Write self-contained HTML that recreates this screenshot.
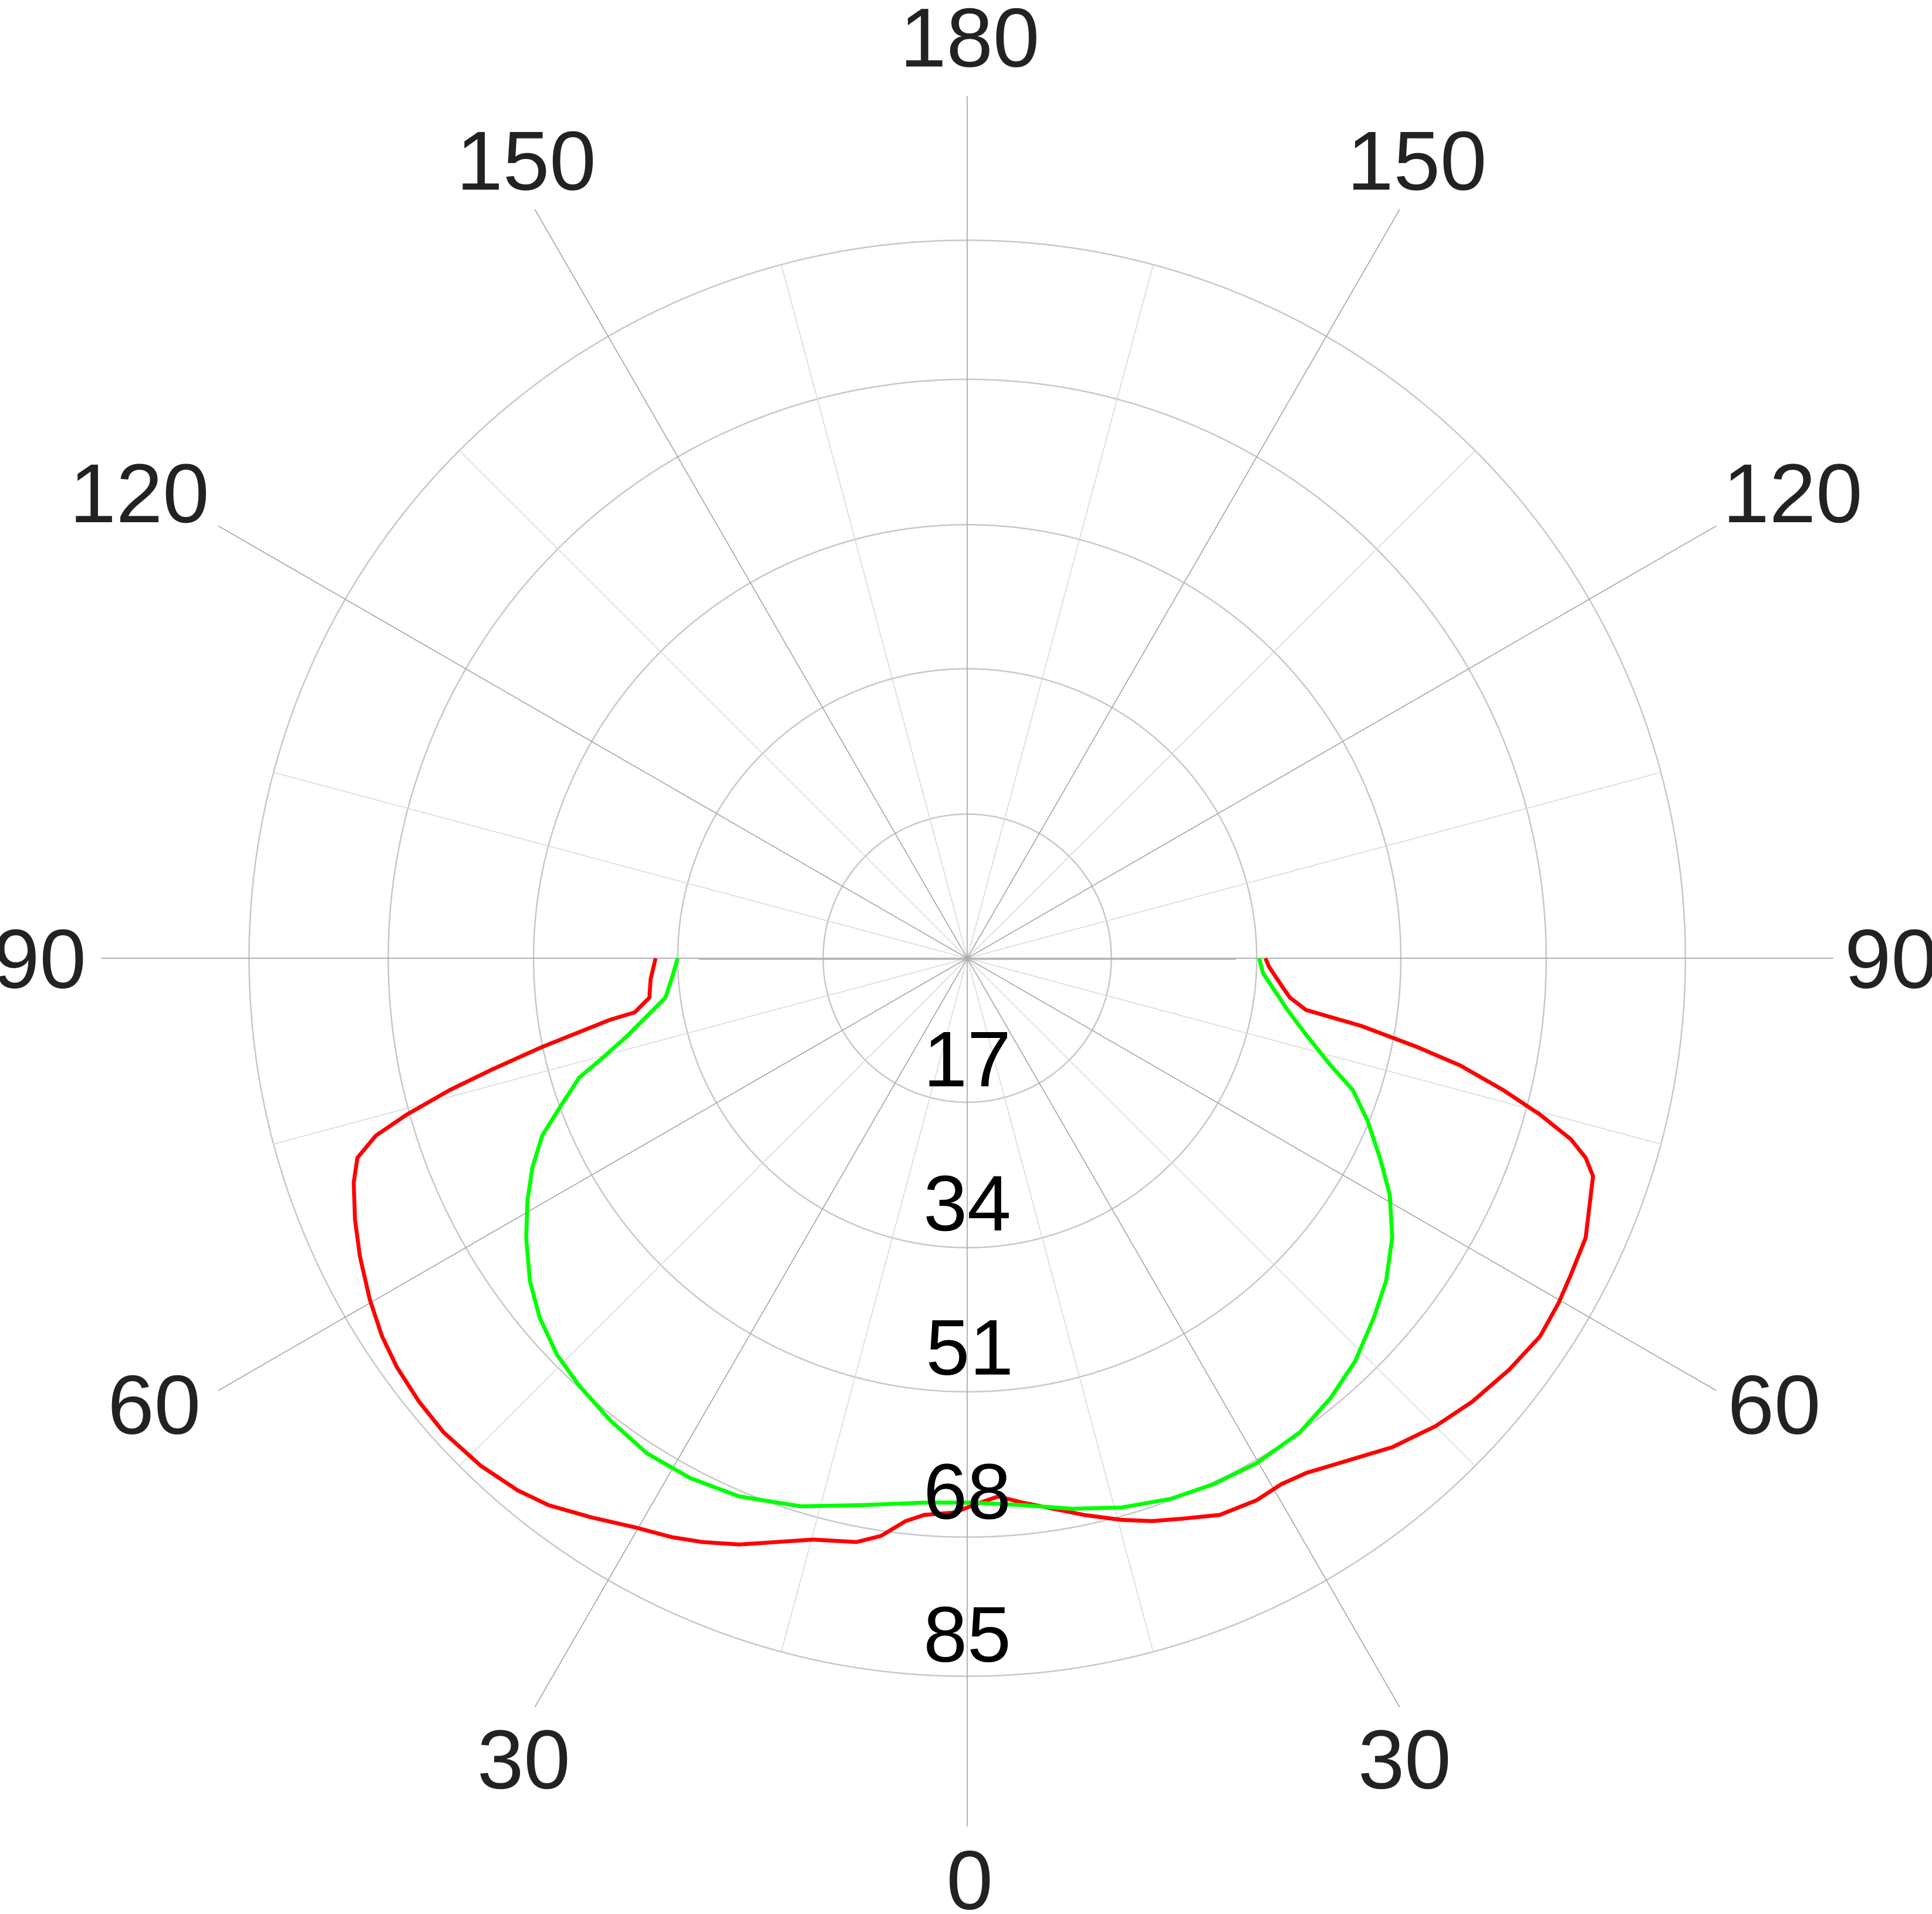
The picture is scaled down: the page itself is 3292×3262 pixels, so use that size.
<!DOCTYPE html>
<html><head><style>html,body{margin:0;padding:0;background:#fff}svg{display:block}</style></head>
<body>
<svg width="3292" height="3262" viewBox="0 0 1568 1554" xmlns="http://www.w3.org/2000/svg">
<rect width="1568" height="1554" fill="#fff"/>
<g transform="translate(785,778)" fill="none">
<g stroke="#c8c8c8" stroke-width="1.2">
<circle r="117"/><circle r="235"/><circle r="352"/><circle r="470"/><circle r="583"/>
</g>
<g stroke="#d8d8d8" stroke-width="0.7">
<line x1="0" y1="0" x2="150.9" y2="563.1"/><line x1="0" y1="0" x2="-150.9" y2="563.1"/>
<line x1="0" y1="0" x2="412.2" y2="412.2"/><line x1="0" y1="0" x2="-412.2" y2="412.2"/>
<line x1="0" y1="0" x2="563.1" y2="150.9"/><line x1="0" y1="0" x2="-563.1" y2="150.9"/>
<line x1="0" y1="0" x2="563.1" y2="-150.9"/><line x1="0" y1="0" x2="-563.1" y2="-150.9"/>
<line x1="0" y1="0" x2="412.2" y2="-412.2"/><line x1="0" y1="0" x2="-412.2" y2="-412.2"/>
<line x1="0" y1="0" x2="150.9" y2="-563.1"/><line x1="0" y1="0" x2="-150.9" y2="-563.1"/>
</g>
<g stroke="#a8a8a8" stroke-width="0.8">
<line x1="0" y1="-700" x2="0" y2="705"/><line x1="-703" y1="0" x2="703" y2="0"/>
<line x1="0" y1="0" x2="351" y2="608"/><line x1="0" y1="0" x2="-351" y2="608"/>
<line x1="0" y1="0" x2="608" y2="351"/><line x1="0" y1="0" x2="-608" y2="351"/>
<line x1="0" y1="0" x2="608" y2="-351"/><line x1="0" y1="0" x2="-608" y2="-351"/>
<line x1="0" y1="0" x2="351" y2="-608"/><line x1="0" y1="0" x2="-351" y2="-608"/>
</g>
<line x1="-218" y1="1" x2="218" y2="1" stroke="#a8c080" stroke-width="0.8"/>
</g>
<polyline fill="none" stroke="#ff0000" stroke-width="3.2" stroke-linejoin="round" points="532,778 528,795 527,810 515,822 495,828 470,838 440,850 400,868 365,885 330,905 305,922 290,940 287,960 288,990 292,1020 300,1055 310,1085 322,1110 340,1138 360,1163 390,1190 420,1210 445,1222 480,1232 515,1240 545,1248 570,1252 600,1254 630,1252 660,1250 695,1252 715,1247 735,1235 750,1230 775,1228 790,1222 810,1215 830,1220 855,1225 880,1230 910,1234 935,1235 960,1233 990,1230 1020,1218 1040,1205 1060,1196 1090,1187 1130,1175 1165,1158 1195,1138 1225,1112 1250,1085 1265,1058 1275,1035 1287,1005 1290,980 1293,955 1287,940 1275,925 1250,905 1220,885 1185,865 1150,850 1105,833 1060,820 1047,810 1040,800 1030,785 1027,778"/>
<polyline fill="none" stroke="#00ff00" stroke-width="3.2" stroke-linejoin="round" points="550,778 545,795 540,810 525,825 508,842 490,858 470,875 455,898 440,922 432,948 428,975 427,1005 430,1040 438,1070 452,1100 470,1125 495,1153 525,1180 560,1200 600,1215 650,1223 700,1222 750,1220 790,1220 830,1222 870,1225 910,1224 950,1217 985,1205 1020,1188 1055,1163 1080,1135 1100,1105 1115,1070 1125,1040 1130,1005 1128,970 1120,940 1110,910 1098,885 1080,865 1060,840 1045,820 1035,805 1025,790 1022,778"/>
<g font-family="Liberation Sans, sans-serif" font-size="68" fill="#222" text-anchor="middle">
<text x="787" y="54">180</text>
<text x="427" y="154">150</text><text x="1150" y="154">150</text>
<text x="113" y="424">120</text><text x="1455" y="424">120</text>
<text x="32" y="802">90</text><text x="1535" y="802">90</text>
<text x="125" y="1164">60</text><text x="1440" y="1164">60</text>
<text x="425" y="1452">30</text><text x="1140" y="1452">30</text>
<text x="787" y="1550">0</text>
</g>
<g font-family="Liberation Sans, sans-serif" font-size="64" fill="#000" text-anchor="middle">
<text x="785" y="882">17</text><text x="785" y="999">34</text><text x="787" y="1116">51</text><text x="785" y="1233">68</text><text x="785" y="1349">85</text>
</g>
</svg>
</body></html>
